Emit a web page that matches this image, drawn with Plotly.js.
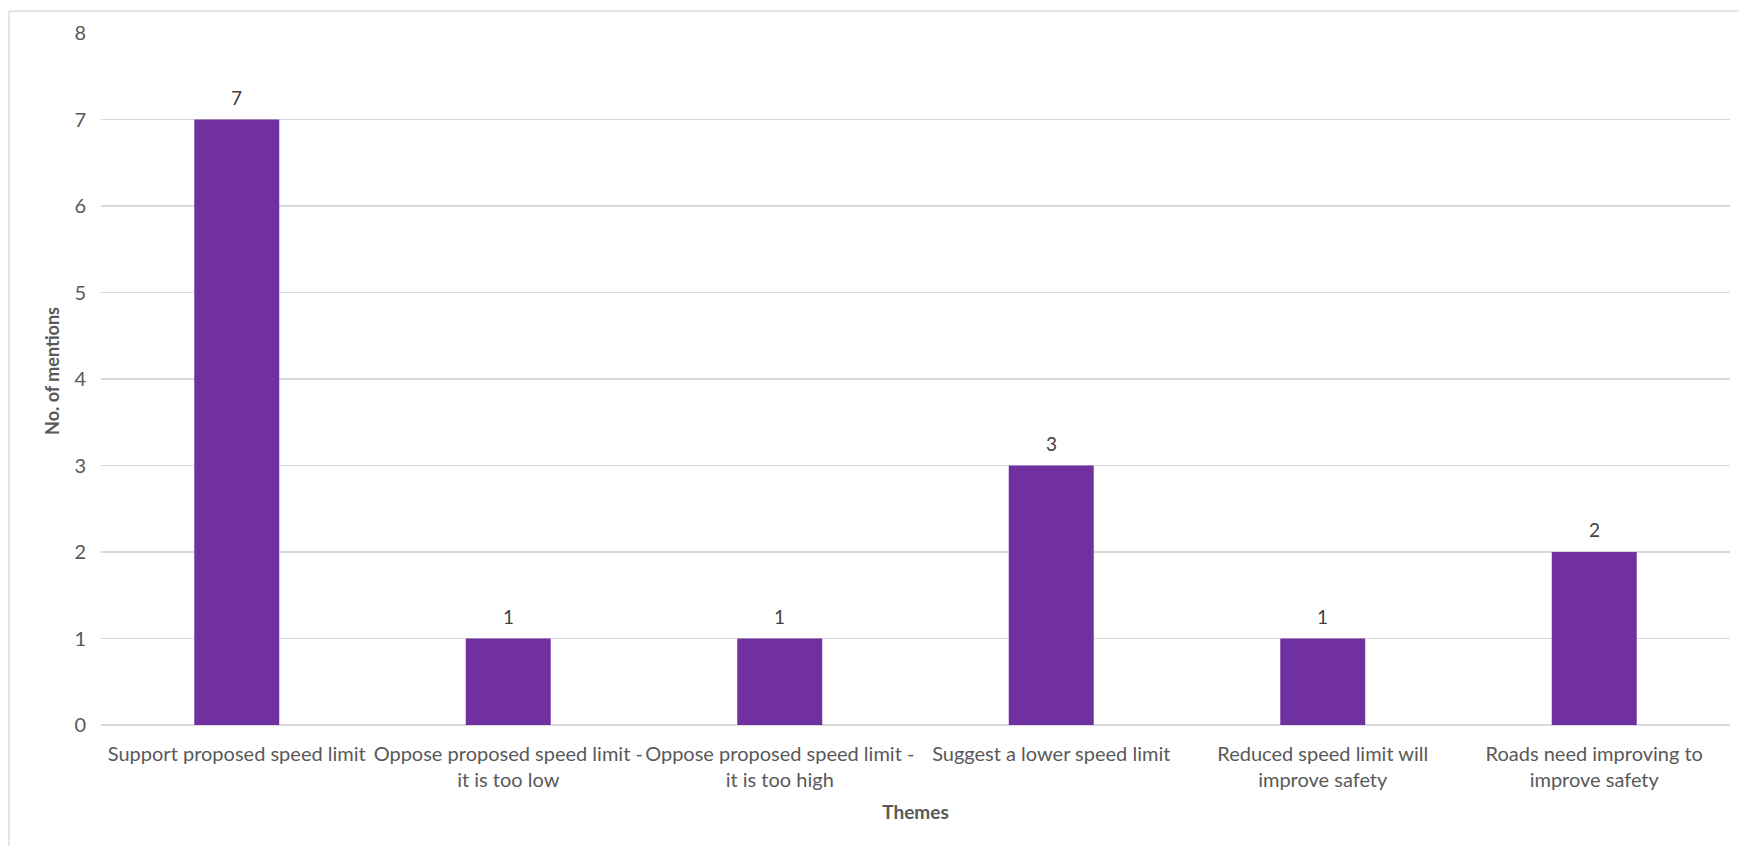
<!DOCTYPE html>
<html>
<head>
<meta charset="utf-8">
<script src="https://cdn.plot.ly/plotly-3.0.1.min.js"></script>
<style>html,body{margin:0;padding:0;background:#fff;}#chart{width:1739px;height:846px;}</style>
</head>
<body>
<div id="chart"></div>
<script>
const categories = [
  "Support proposed speed limit",
  "Oppose proposed speed limit -<br>it is too low",
  "Oppose proposed speed limit -<br>it is too high",
  "Suggest a lower speed limit",
  "Reduced speed limit will<br>improve safety",
  "Roads need improving to<br>improve safety"
];
const mentions = [7, 1, 1, 3, 1, 2];
const yTicks = [0, 1, 2, 3, 4, 5, 6, 7, 8];

const FONT = "Lato, 'Open Sans', sans-serif";
const trace = {
  type: 'bar',
  x: categories,
  y: mentions,
  marker: {color: '#7030A0'},
  width: 0.313,
  hoverinfo: 'skip'
};
const annotations = categories.map((c, i) => ({
  x: c, y: mentions[i], xref: 'x', yref: 'y',
  text: String(mentions[i]), showarrow: false,
  yanchor: 'bottom', yshift: 9,
  font: {family: FONT, size: 19, color: '#404040'}
}));
annotations.push({
  xref: 'paper', yref: 'paper', x: -0.0301, y: 0.5116,
  xanchor: 'center', yanchor: 'middle', textangle: -90, showarrow: false,
  text: '<b>No. of mentions</b>',
  font: {family: FONT, size: 18, color: '#595959'}
});
const layout = {
  width: 1739, height: 846,
  margin: {l: 101, r: 9, t: 33, b: 121},
  paper_bgcolor: '#fff', plot_bgcolor: '#fff',
  showlegend: false,
  bargap: 0.687,
  xaxis: {
    type: 'category',
    tickfont: {family: FONT, size: 20, color: '#595959'},
    showgrid: false, showline: false, ticks: '', ticklabelstandoff: 15,
    title: {text: '<b>Themes</b>', font: {family: FONT, size: 19, color: '#595959'}, standoff: 15}
  },
  yaxis: {
    range: [0, 8], tickvals: yTicks, ticktext: yTicks.map(String),
    tickfont: {family: FONT, size: 20, color: '#595959'},
    gridcolor: '#d9d9d9', gridwidth: 1.3,
    zeroline: true, zerolinecolor: '#d9d9d9', zerolinewidth: 1.3,
    showline: false, ticks: '', ticklabelstandoff: 14
  },
  annotations: annotations,
  shapes: [
    {type: 'line', xref: 'paper', yref: 'paper', x0: -0.0565, x1: 1.01, y0: 1.0316, y1: 1.0316, line: {color: '#d9d9d9', width: 1.3}},
    {type: 'line', xref: 'paper', yref: 'paper', x0: -0.0565, x1: -0.0565, y0: 1.0316, y1: -0.2, line: {color: '#d9d9d9', width: 1.3}}
  ]
};
Plotly.newPlot('chart', [trace], layout, {displayModeBar: false, staticPlot: true});
</script>
</body>
</html>
